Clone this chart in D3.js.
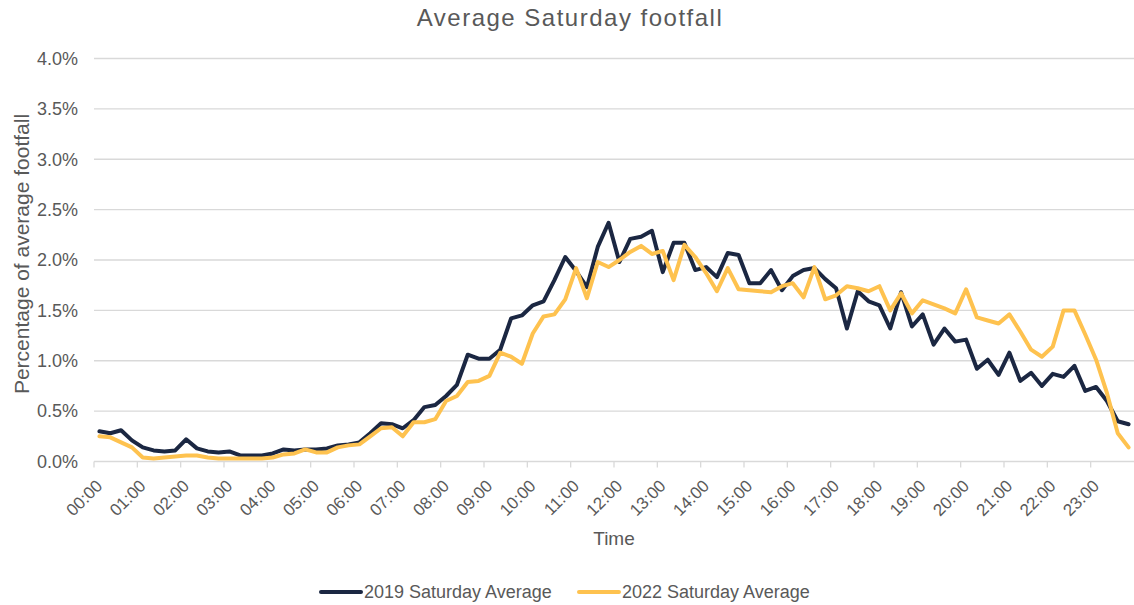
<!DOCTYPE html>
<html>
<head>
<meta charset="utf-8">
<script src="https://cdn.jsdelivr.net/npm/d3@7"></script>
<style>
  html, body { margin: 0; padding: 0; background: #fff; }
  svg { display: block; font-family: "Liberation Sans", Arial, sans-serif; }
</style>
</head>
<body>
<svg id="chart" width="1134" height="605"></svg>
<script>
// ---- Data ----
const hours = d3.range(24);
const minutes = [0, 15, 30, 45];
const categories = hours.flatMap(h => minutes.map(m => String(h).padStart(2, "0") + ":" + String(m).padStart(2, "0")));

const series2019 = [
  0.30, 0.28, 0.31, 0.21, 0.14, 0.11, 0.10, 0.11, 0.22, 0.13, 0.10, 0.09,
  0.10, 0.06, 0.06, 0.06, 0.08, 0.12, 0.11, 0.12, 0.12, 0.13, 0.16, 0.17,
  0.19, 0.28, 0.38, 0.37, 0.33, 0.41, 0.54, 0.56, 0.65, 0.76, 1.06, 1.02,
  1.02, 1.11, 1.42, 1.45, 1.55, 1.59, 1.80, 2.03, 1.89, 1.73, 2.13, 2.37,
  1.98, 2.21, 2.23, 2.29, 1.88, 2.17, 2.17, 1.90, 1.93, 1.83, 2.07, 2.05,
  1.77, 1.77, 1.90, 1.70, 1.84, 1.90, 1.92, 1.81, 1.72, 1.32, 1.69, 1.59,
  1.55, 1.32, 1.68, 1.34, 1.46, 1.16, 1.32, 1.19, 1.21, 0.92, 1.01, 0.86,
  1.08, 0.80, 0.88, 0.75, 0.87, 0.84, 0.95, 0.70, 0.74, 0.60, 0.40, 0.37
];

const series2022 = [
  0.25, 0.24, 0.19, 0.14, 0.04, 0.03, 0.04, 0.05, 0.06, 0.06, 0.04, 0.03,
  0.03, 0.03, 0.03, 0.03, 0.04, 0.07, 0.08, 0.12, 0.09, 0.09, 0.14, 0.16,
  0.17, 0.25, 0.33, 0.34, 0.25, 0.39, 0.39, 0.42, 0.60, 0.65, 0.79, 0.80,
  0.85, 1.08, 1.04, 0.97, 1.27, 1.44, 1.46, 1.61, 1.92, 1.62, 1.98, 1.93,
  2.00, 2.08, 2.14, 2.06, 2.09, 1.80, 2.15, 2.03, 1.87, 1.69, 1.92, 1.71,
  1.70, 1.69, 1.68, 1.74, 1.77, 1.63, 1.93, 1.61, 1.65, 1.74, 1.72, 1.69,
  1.74, 1.50, 1.67, 1.47, 1.60, 1.56, 1.52, 1.47, 1.71, 1.43, 1.40, 1.37,
  1.46, 1.29, 1.11, 1.04, 1.14, 1.50, 1.50, 1.26, 1.01, 0.68, 0.28, 0.14
];

const yTicks = [0, 0.5, 1.0, 1.5, 2.0, 2.5, 3.0, 3.5, 4.0];
const seriesNames = ["2019 Saturday Average", "2022 Saturday Average"];
const titleText = "Average Saturday footfall";
const xTitle = "Time";
const yTitle = "Percentage of average footfall";

// ---- Layout ----
const colors = ["#1b2742", "#fec24f"];
const textColor = "#595959";
const gridColor = "#d9d9d9";
const plot = { left: 94, right: 1134, top: 58.5, bottom: 461.5 };

const svg = d3.select("#chart");

const x = d3.scaleBand().domain(categories).range([plot.left, plot.right]).padding(0);
const y = d3.scaleLinear().domain([0, 4]).range([plot.bottom, plot.top]);
const cx = c => x(c) + x.bandwidth() / 2;

// Title
svg.append("text")
  .attr("x", 570).attr("y", 26)
  .attr("text-anchor", "middle")
  .attr("font-size", 24)
  .attr("letter-spacing", 1.5)
  .attr("fill", textColor)
  .text(titleText);

// Gridlines
svg.append("g")
  .selectAll("line")
  .data(yTicks.filter(t => t > 0))
  .join("line")
  .attr("x1", plot.left).attr("x2", plot.right)
  .attr("y1", d => y(d)).attr("y2", d => y(d))
  .attr("stroke", gridColor).attr("stroke-width", 1.3);

// Y axis labels
const yAxis = d3.axisLeft(y).tickValues(yTicks).tickFormat(d => d.toFixed(1) + "%").tickSize(0).tickPadding(16);
const yg = svg.append("g").attr("transform", `translate(${plot.left},0)`).call(yAxis);
yg.select(".domain").remove();
yg.selectAll("text").attr("font-size", 18).attr("fill", textColor)
  .attr("font-family", '"Liberation Sans", Arial, sans-serif');

// X axis line and ticks (tick marks between categories, every hour)
const xg = svg.append("g");
xg.append("line")
  .attr("x1", plot.left).attr("x2", plot.right)
  .attr("y1", y(0)).attr("y2", y(0))
  .attr("stroke", gridColor).attr("stroke-width", 1.3);
const hourCats = categories.filter((c, i) => i % 4 === 0);
xg.selectAll("line.tick")
  .data(hourCats)
  .join("line").attr("class", "tick")
  .attr("x1", d => x(d)).attr("x2", d => x(d))
  .attr("y1", y(0)).attr("y2", y(0) + 6)
  .attr("stroke", gridColor).attr("stroke-width", 1.3);
xg.selectAll("text")
  .data(hourCats)
  .join("text")
  .attr("transform", d => `translate(${cx(d) + 4},487) rotate(-45)`)
  .attr("text-anchor", "end")
  .attr("font-size", 17)
  .attr("fill", textColor)
  .text(d => d);

// Axis titles
svg.append("text")
  .attr("x", 614).attr("y", 545)
  .attr("text-anchor", "middle")
  .attr("font-size", 19)
  .attr("fill", textColor)
  .text(xTitle);

svg.append("text")
  .attr("transform", "translate(28.5,254) rotate(-90)")
  .attr("text-anchor", "middle")
  .attr("font-size", 21)
  .attr("fill", textColor)
  .text(yTitle);

// Lines
const line = d3.line()
  .x((d, i) => cx(categories[i]))
  .y(d => y(d));

[series2019, series2022].forEach((s, k) => {
  svg.append("path")
    .datum(s)
    .attr("d", line)
    .attr("fill", "none")
    .attr("stroke", colors[k])
    .attr("stroke-width", 4)
    .attr("stroke-linejoin", "round")
    .attr("stroke-linecap", "round");
});

// Legend
const legendItems = [
  { name: seriesNames[0], color: colors[0], x: 321 },
  { name: seriesNames[1], color: colors[1], x: 579 }
];
const lg = svg.append("g");
legendItems.forEach(it => {
  lg.append("line")
    .attr("x1", it.x).attr("x2", it.x + 40)
    .attr("y1", 592).attr("y2", 592)
    .attr("stroke", it.color).attr("stroke-width", 4)
    .attr("stroke-linecap", "round");
  lg.append("text")
    .attr("x", it.x + 43).attr("y", 598)
    .attr("font-size", 18)
    .attr("fill", textColor)
    .text(it.name);
});
</script>
</body>
</html>
